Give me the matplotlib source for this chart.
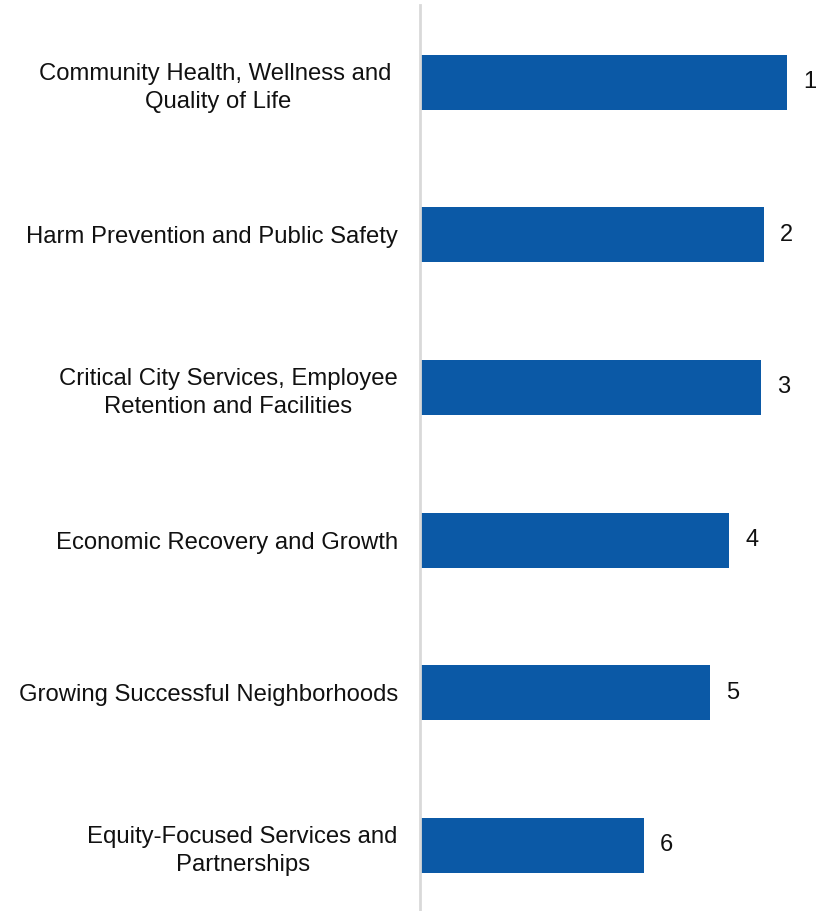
import matplotlib.pyplot as plt

# Priority areas and their scores (bar length), rank shown as label
categories = [
    "Community Health, Wellness and \nQuality of Life",
    "Harm Prevention and Public Safety",
    "Critical City Services, Employee\nRetention and Facilities",
    "Economic Recovery and Growth",
    "Growing Successful Neighborhoods",
    "Equity-Focused Services and\nPartnerships",
]
scores = [3.67, 3.44, 3.41, 3.09, 2.90, 2.24]
ranks = ["1", "2", "3", "4", "5", "6"]

plt.rcParams['font.family'] = ['Liberation Sans', 'DejaVu Sans']

fig = plt.figure(figsize=(8.25, 9.11), dpi=100)
ax = fig.add_axes([420 / 825, 0, 405 / 825, 906 / 911])

y = list(range(len(categories)))
ax.barh(y, scores, height=0.36, color='#0B59A6', zorder=2)

for yi, s, r in zip(y, scores, ranks):
    ax.text(s + 0.16, yi, r, va='center', ha='left', fontsize=17, color='#111111')

ax.set_xlim(0, 4.05)
ax.set_ylim(5.43, -0.505)
ax.set_yticks(y)
ax.set_yticklabels(categories, fontsize=17.2, multialignment='center',
                   color='#111111', linespacing=1.38)
ax.tick_params(axis='y', length=0, pad=16)
ax.set_xticks([])

for side in ['top', 'right', 'bottom']:
    ax.spines[side].set_visible(False)
ax.spines['left'].set_color('#D9D9D9')
ax.spines['left'].set_linewidth(2)

fig.savefig('out.png', dpi=100)
